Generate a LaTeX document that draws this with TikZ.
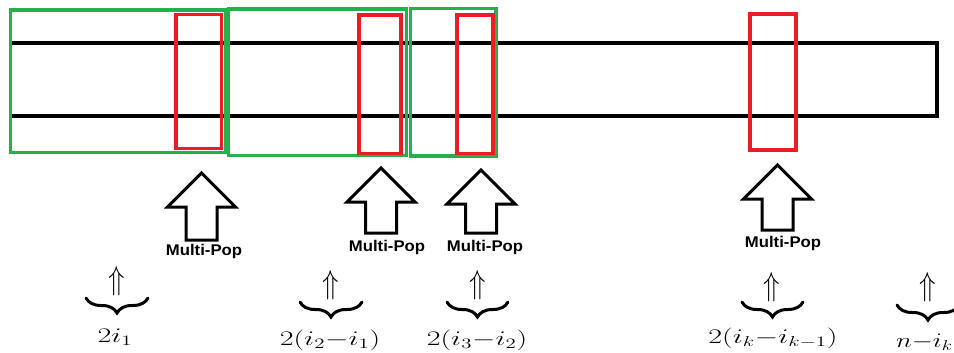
\documentclass[tikz,border=0pt]{standalone}
\usepackage{fontspec}
\setsansfont{Liberation Sans}
\usepackage{graphicx}
\usetikzlibrary{decorations.pathreplacing}

\definecolor{paintgreen}{HTML}{22B14C}
\definecolor{paintred}{HTML}{ED1C24}

\tikzset{
  barline/.style={draw=black, line width=3.4pt, line join=miter},
  greenbox/.style={draw=paintgreen, line width=3.6pt, inner sep=0pt, outer sep=0pt},
  redbox/.style={draw=paintred, line width=3.2pt, inner sep=0pt, outer sep=0pt},
  popline/.style={draw=black, line width=3pt, line join=miter, fill=white},
  poplabel/.style={inner sep=0pt, font=\sffamily\bfseries\fontsize{15.5}{15.5}\selectfont},
  uparrowmark/.style={inner sep=0pt},
  bracemark/.style={decorate, decoration={brace, mirror, amplitude=15pt, aspect=0.5},
                    line width=3pt, line cap=round},
  countlabel/.style={inner sep=0pt, anchor=base}
}

% a hollow block arrow pointing up: name, centre x, tip y, bottom y
\newcommand\popArrow[4]{%
  \coordinate (#1) at (#2,#3);
  \draw[popline] (#1) -- ++(34,34) -- ++(-18.5,0) -- (#2+15.5,#4)
     -- (#2-15.5,#4) -- (#2-15.5,#3+34) -- (#2-34,#3+34) -- cycle;
}
% a widened math label
\newcommand\wideMath[2][1.45]{\scalebox{#1}[1]{\fontsize{20.5}{24}\selectfont$#2$}}
\newcommand\tallUp{\scalebox{1.3}[1.6]{\fontsize{20}{24}\selectfont$\Uparrow$}}

\begin{document}
\begin{tikzpicture}[x=1pt, y=-1pt]
  \useasboundingbox (0,0) rectangle (954,353);

  % the array strip
  \coordinate (barL1) at (11,43);
  \coordinate (barR1) at (937,43);
  \coordinate (barR2) at (937,116);
  \coordinate (barL2) at (11,116);
  \draw[barline] (barL1) -- (barR1) -- (barR2) -- (barL2);

  % green segment frames
  \node[greenbox, minimum width=215pt, minimum height=142.5pt] (g1) at (118,81.25) {};
  \node[greenbox, minimum width=178pt, minimum height=146.5pt] (g2) at (317.5,82.25) {};
  \node[greenbox, minimum width=85.5pt, minimum height=147.5pt] (g3) at (453.25,82.25) {};

  % red pop windows
  \node[redbox, minimum width=45.5pt, minimum height=134pt] (r1) at (198.75,81.3) {};
  \node[redbox, minimum width=42pt, minimum height=138.5pt] (r2) at (380,84.25) {};
  \node[redbox, minimum width=36pt, minimum height=138.5pt] (r3) at (475,84.25) {};
  \node[redbox, minimum width=46pt, minimum height=136pt] (r4) at (773,82) {};

  % Multi-Pop arrows
  \popArrow{a1}{201.5}{173}{240}
  \popArrow{a2}{381}{168}{233}
  \popArrow{a3}{481}{170}{233}
  \popArrow{a4}{777.5}{165}{230}

  \node[poplabel] (p1) at (204,251.5) {\scalebox{1.08}[1]{Multi-Pop}};
  \node[poplabel] (p2) at (387,247) {\scalebox{1.08}[1]{Multi-Pop}};
  \node[poplabel] (p3) at (485,247.5) {\scalebox{1.08}[1]{Multi-Pop}};
  \node[poplabel] (p4) at (783,243) {\scalebox{1.08}[1]{Multi-Pop}};

  % cost braces
  \node[uparrowmark] (u1) at (117,281) {\tallUp};
  \coordinate (b1l) at (86,298);  \coordinate (b1r) at (148,298);
  \draw[bracemark] (b1l) -- (b1r);
  \node[countlabel] (c1) at (115,342) {\wideMath{2i_1}};

  \node[uparrowmark] (u2) at (331,285) {\tallUp};
  \coordinate (b2l) at (300,302);  \coordinate (b2r) at (362,302);
  \draw[bracemark] (b2l) -- (b2r);
  \node[countlabel] (c2) at (330,345) {\wideMath{2(i_2{-}i_1)}};

  \node[uparrowmark] (u3) at (478,285) {\tallUp};
  \coordinate (b3l) at (447,302);  \coordinate (b3r) at (508,302);
  \draw[bracemark] (b3l) -- (b3r);
  \node[countlabel] (c3) at (477,345) {\wideMath{2(i_3{-}i_2)}};

  \node[uparrowmark] (u4) at (772,287) {\tallUp};
  \coordinate (b4l) at (742,302);  \coordinate (b4r) at (803,302);
  \draw[bracemark] (b4l) -- (b4r);
  \node[countlabel] (c4) at (773,343) {\wideMath{2(i_k{-}i_{k-1})}};

  \node[uparrowmark] (u5) at (928,287) {\tallUp};
  \coordinate (b5l) at (897,305);  \coordinate (b5r) at (959,305);
  \draw[bracemark] (b5l) -- (b5r);
  \node[countlabel] (c5) at (924.5,347) {\wideMath[1.3]{n{-}i_k}};
\end{tikzpicture}
\end{document}
